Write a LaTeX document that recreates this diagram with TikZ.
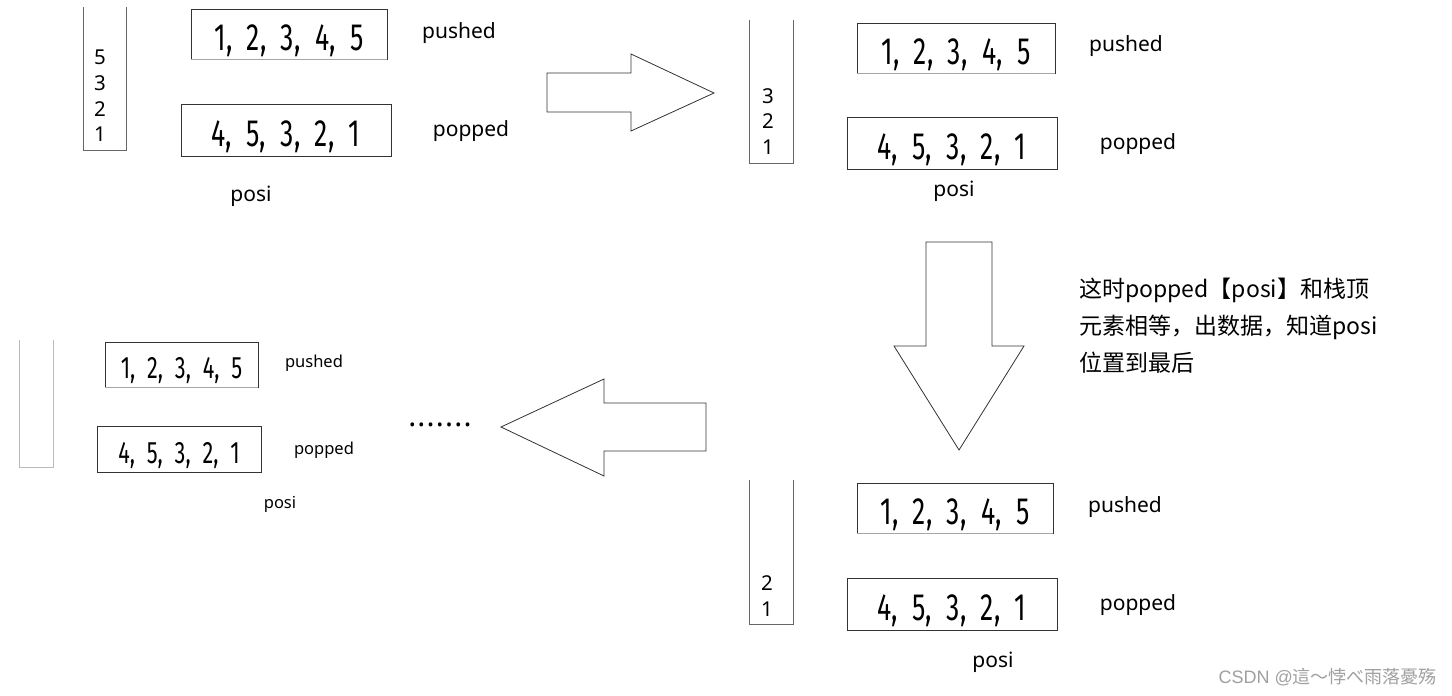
\documentclass[tikz,border=0pt]{standalone}
\usepackage{fontspec}
\setmainfont{Noto Sans}
\newfontfamily\cjk{Noto Sans CJK SC}
\newfontfamily\wmlatin{Liberation Sans}
\newfontfamily\numfont[FakeStretch=0.7]{Fira Sans}
\newcommand\cs{,\hspace{0.38em}}
\newcommand\dotsep{\hspace{1.2pt}}
\definecolor{edge}{HTML}{333333}
\definecolor{stkgray}{HTML}{666666}
\definecolor{lightstk}{HTML}{BBBBBB}
\definecolor{wmgray}{HTML}{A0A0A0}
\tikzset{
  numbox/.style={draw=edge, line width=0.9pt, inner xsep=0pt, inner ysep=0pt,
    text height=40pt, text depth=8pt, font=\numfont\fontsize{38}{38}\selectfont},
  smallnum/.style={numbox, text height=36pt, text depth=8pt,
    font=\numfont\fontsize{31}{31}\selectfont},
  shade/.style={draw=gray!70, line width=1.4pt},
  lbl/.style={font=\fontsize{21}{25}\selectfont, inner sep=0pt},
  slbl/.style={font=\fontsize{16.5}{20}\selectfont, inner sep=0pt},
  stk/.style={draw=stkgray, line width=0.8pt},
  lstk/.style={draw=lightstk, line width=0.8pt},
  stktext/.style={font=\fontsize{20.5}{25.7}\selectfont, align=center, inner sep=0pt},
  blockarrow/.style={draw=edge, line width=0.8pt, line join=miter}
}
\begin{document}
\begin{tikzpicture}[x=1pt,y=-1pt]
\useasboundingbox[fill=white] (0,0) rectangle (1452,696);

% ---------- panel 1 (top left)
\draw[stk] (83,7) -- (83,150) -- (126,150) -- (126,7);
\node[stktext] (s1) at (100,96) {5\\3\\2\\1};
\node[numbox, minimum width=196pt, minimum height=50pt] (push1) at (289,34) {1\cs 2\cs 3\cs 4\cs 5};
\draw[shade] (push1.south west) -- (push1.south east);
\node[numbox, minimum width=210pt, minimum height=52pt] (pop1) at (286,130) {4\cs 5\cs 3\cs 2\cs 1};
\node[lbl] (pushl1) at (459,33) {pushed};
\node[lbl] (popl1) at (471,131) {popped};
\node[lbl] (posi1) at (251,196) {posi};

% ---------- right arrow
\draw[blockarrow] (547,73) -- (631,73) -- (631,54) -- (714,93) -- (631,131) -- (631,112) -- (547,112) -- cycle;

% ---------- panel 2 (top right)
\draw[stk] (749,20) -- (749,163) -- (793,163) -- (793,20);
\node[stktext] (s2) at (768,121.5) {3\\2\\1};
\node[numbox, minimum width=198pt, minimum height=50pt] (push2) at (956,48) {1\cs 2\cs 3\cs 4\cs 5};
\draw[shade] (push2.south west) -- (push2.south east);
\node[numbox, minimum width=210pt, minimum height=52pt] (pop2) at (952,143) {4\cs 5\cs 3\cs 2\cs 1};
\node[lbl] (pushl2) at (1126,46) {pushed};
\node[lbl] (popl2) at (1138,144) {popped};
\node[lbl] (posi2) at (954,191) {posi};

% ---------- down arrow
\draw[blockarrow] (926,242) -- (992,242) -- (992,346) -- (1024,346) -- (959,450) -- (894,346) -- (926,346) -- cycle;

% ---------- note
\node[anchor=north west, align=left, inner sep=0pt,
      font=\cjk\fontsize{23}{37}\selectfont] (note) at (1079,278)
  {这时popped【posi】和栈顶\\元素相等，出数据，知道posi\\位置到最后};

% ---------- panel 3 (bottom right)
\draw[stk] (749,480) -- (749,624) -- (793,624) -- (793,480);
\node[stktext] (s3) at (767,596) {2\\1};
\node[numbox, minimum width=196pt, minimum height=50pt] (push3) at (955,508) {1\cs 2\cs 3\cs 4\cs 5};
\draw[shade] (push3.south west) -- (push3.south east);
\node[numbox, minimum width=210pt, minimum height=52pt] (pop3) at (952,604) {4\cs 5\cs 3\cs 2\cs 1};
\node[lbl] (pushl3) at (1125,507) {pushed};
\node[lbl] (popl3) at (1138,605) {popped};
\node[lbl] (posi3) at (993,662) {posi};

% ---------- left arrow
\draw[blockarrow] (706,403) -- (604,403) -- (604,379) -- (501,427) -- (604,476) -- (604,451) -- (706,451) -- cycle;

% ---------- dots
\node[font=\bfseries\fontsize{30}{30}\selectfont, inner sep=0pt] (dots) at (440,425)
  {.\dotsep.\dotsep.\dotsep.\dotsep.\dotsep.\dotsep.};

% ---------- panel 4 (bottom left)
\draw[lstk] (19,340) -- (19,467) -- (53,467) -- (53,340);
\node[smallnum, minimum width=153pt, minimum height=45pt] (push4) at (181.5,364.5) {1\cs 2\cs 3\cs 4\cs 5};
\draw[shade] (push4.south west) -- (push4.south east);
\node[smallnum, minimum width=164pt, minimum height=46pt] (pop4) at (179,449) {4\cs 5\cs 3\cs 2\cs 1};
\node[slbl] (pushl4) at (314,363) {pushed};
\node[slbl] (popl4) at (324,450) {popped};
\node[slbl] (posi4) at (280,504) {posi};

% ---------- watermark
\node[anchor=east, inner sep=0pt, text=wmgray, font=\cjk\fontsize{18}{18}\selectfont] (wm) at (1437,677)
  {{\wmlatin CSDN @}這～悖べ雨落憂殇};
\end{tikzpicture}
\end{document}
